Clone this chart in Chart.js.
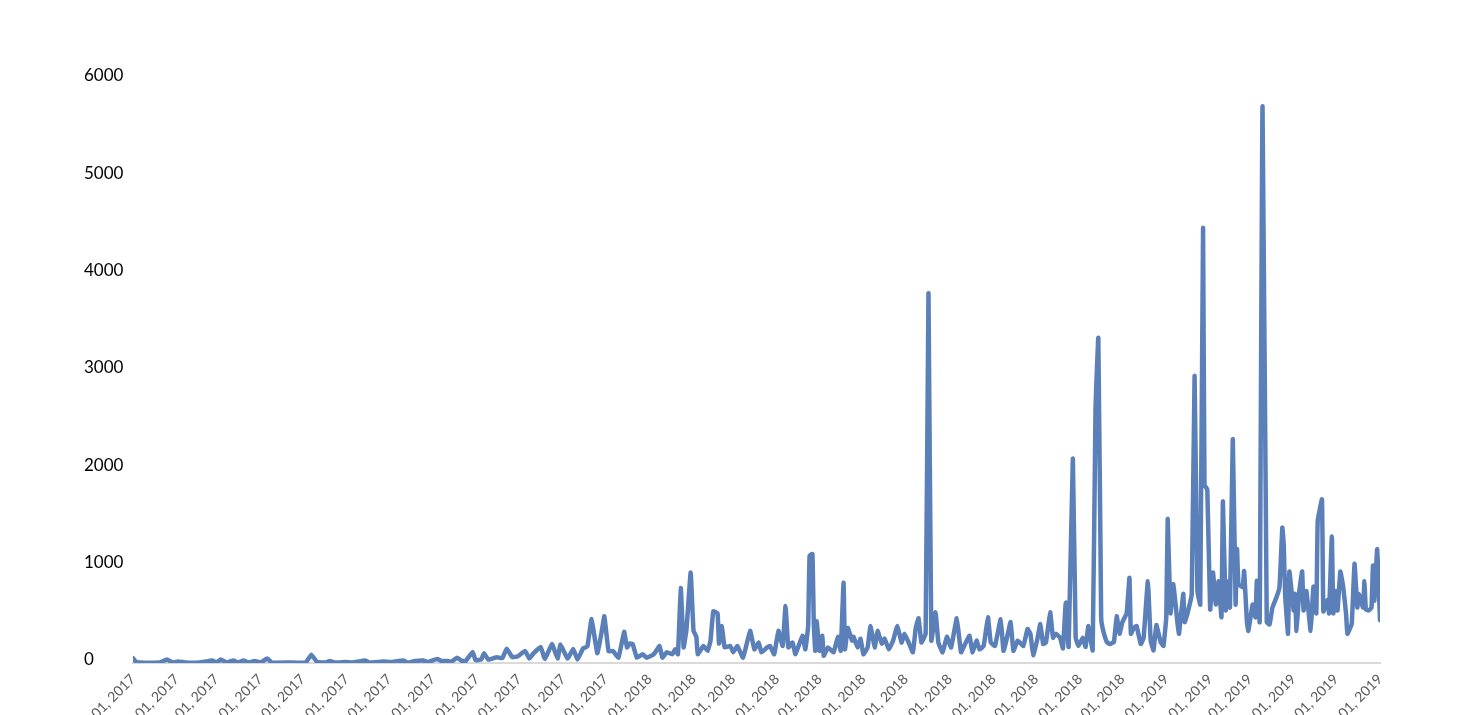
<!DOCTYPE html>
<html>
<head>
<meta charset="utf-8">
<script src="https://cdn.jsdelivr.net/npm/chart.js@4.4.0/dist/chart.umd.min.js"></script>
<style>
  html, body { margin: 0; padding: 0; background: #fff; overflow: hidden; }
  #wrap { width: 1468px; height: 715px; }
</style>
</head>
<body>
<div id="wrap"><canvas id="chart" width="1468" height="715"></canvas></div>
<script>
/* ── Axis labels ── */
const monthLabels = [
  'Jan 01, 2017', 'Feb 01, 2017', 'Mar 01, 2017', 'Apr 01, 2017', 'May 01, 2017', 'Jun 01, 2017',
  'Jul 01, 2017', 'Aug 01, 2017', 'Sep 01, 2017', 'Oct 01, 2017', 'Nov 01, 2017', 'Dec 01, 2017',
  'Jan 01, 2018', 'Feb 01, 2018', 'Mar 01, 2018', 'Apr 01, 2018', 'May 01, 2018', 'Jun 01, 2018',
  'Jul 01, 2018', 'Aug 01, 2018', 'Sep 01, 2018', 'Oct 01, 2018', 'Nov 01, 2018', 'Dec 01, 2018',
  'Jan 01, 2019', 'Feb 01, 2019', 'Mar 01, 2019', 'Apr 01, 2019', 'May 01, 2019', 'Jun 01, 2019'
];
const yTicks = [0, 1000, 2000, 3000, 4000, 5000, 6000];

/* ── Series: days since Jan 01, 2017 and the count on that day ── */
const dayOffset = [
  0, 2, 5, 12, 19, 24, 28, 32, 37, 47, 56, 59, 62, 66, 71, 74, 78, 82, 86, 90,
  95, 98, 111, 122, 126, 130, 136, 139, 143, 150, 155, 164, 167, 177, 182, 191, 194, 199, 205, 208,
  215, 218, 222, 225, 229, 232, 235, 240, 242, 246, 248, 251, 257, 261, 264, 268, 272, 277, 280, 283,
  288, 291, 296, 300, 302, 307, 311, 314, 318, 321, 324, 328, 331, 333, 336, 339, 343, 347, 349, 351,
  353, 356, 360, 363, 367, 369, 372, 374, 377, 381, 383, 385, 387, 389, 391, 394, 396, 398, 399, 403,
  406, 408, 410, 413, 414, 416, 418, 422, 424, 427, 431, 436, 439, 442, 444, 448, 450, 453, 456, 459,
  461, 463, 466, 468, 473, 475, 477, 478, 480, 481, 482, 483, 485, 487, 488, 491, 495, 498, 500, 502,
  503, 505, 508, 509, 512, 514, 516, 519, 521, 524, 526, 529, 531, 534, 537, 540, 543, 545, 548, 551,
  553, 555, 557, 560, 562, 564, 567, 569, 572, 575, 578, 582, 585, 588, 591, 593, 596, 598, 601, 604,
  606, 609, 613, 615, 617, 620, 622, 625, 629, 632, 634, 636, 639, 641, 643, 645, 648, 650, 652, 655,
  657, 659, 661, 664, 666, 668, 671, 673, 675, 678, 680, 682, 684, 685, 688, 690, 693, 695, 697, 699,
  702, 704, 705, 707, 709, 712, 714, 717, 719, 721, 723, 726, 728, 730, 731, 733, 735, 738, 739, 742,
  743, 745, 748, 750, 752, 754, 756, 757, 759, 761, 763, 765, 767, 769, 770, 772, 774, 775, 777, 779,
  780, 781, 784, 785, 787, 788, 791, 793, 794, 796, 798, 801, 803, 805, 808, 810, 812, 813, 814, 816,
  817, 820, 821, 822, 824, 826, 827, 829, 832, 834, 836, 837, 840, 841, 844, 845, 847, 848, 850, 851,
  853, 855, 857, 858, 861, 863, 865, 866, 869, 870, 871, 873, 875, 876, 877, 879, 881
];
const dailyCount = [
  50, 15, 5, 3, 5, 35, 5, 15, 5, 5, 25, 5, 35, 5, 25, 5, 25, 5, 20, 5,
  45, 5, 5, 5, 85, 10, 5, 20, 5, 10, 5, 25, 5, 15, 10, 25, 5, 20, 25, 10,
  40, 20, 20, 15, 55, 25, 20, 113, 30, 35, 100, 35, 60, 50, 147, 60, 70, 123, 45, 100,
  165, 40, 195, 45, 190, 45, 145, 35, 150, 170, 450, 100, 310, 480, 120, 125, 55, 320, 160, 200,
  195, 55, 90, 55, 80, 110, 175, 55, 110, 90, 140, 90, 770, 160, 340, 930, 330, 270, 90, 175,
  125, 230, 530, 510, 200, 380, 160, 175, 110, 175, 55, 330, 140, 210, 110, 160, 175, 90, 330, 175,
  585, 160, 210, 90, 280, 140, 380, 1100, 1120, 390, 125, 430, 125, 280, 75, 160, 110, 270, 125, 825,
  140, 360, 230, 270, 160, 250, 90, 160, 380, 160, 330, 200, 250, 140, 230, 380, 210, 300, 210, 110,
  360, 460, 210, 300, 3800, 230, 520, 210, 110, 270, 160, 460, 110, 200, 280, 110, 230, 140, 175, 470,
  210, 175, 450, 125, 230, 420, 125, 230, 175, 350, 300, 80, 250, 400, 195, 210, 520, 260, 300, 260,
  150, 620, 165, 2100, 260, 175, 260, 165, 380, 130, 2600, 3340, 465, 360, 215, 195, 215, 480, 300, 420,
  510, 875, 300, 360, 380, 195, 260, 840, 230, 130, 390, 215, 175, 470, 1480, 510, 810, 400, 300, 710,
  420, 510, 710, 2950, 740, 600, 4470, 1830, 1780, 550, 930, 600, 840, 470, 1660, 540, 840, 570, 2300, 600,
  1170, 810, 780, 945, 420, 330, 600, 470, 845, 420, 5720, 420, 395, 570, 680, 780, 1390, 1210, 700, 300,
  940, 540, 710, 330, 740, 940, 540, 740, 330, 785, 510, 1460, 1680, 530, 650, 510, 1300, 510, 740, 540,
  940, 780, 510, 300, 400, 1020, 570, 710, 570, 840, 550, 540, 570, 1000, 640, 1170, 440
];

/* ── Month ticks sit on the first day of each month ── */
const START = Date.UTC(2017, 0, 1);
const tickDays = monthLabels.map((_, m) => Math.round((Date.UTC(2017, m, 1) - START) / 864e5));

const ctx = document.getElementById('chart').getContext('2d');

new Chart(ctx, {
  type: 'line',
  data: {
    datasets: [{
      data: dayOffset.map((d, i) => ({ x: d, y: dailyCount[i] })),
      borderColor: '#5b80b9',
      borderWidth: 4.5,
      pointRadius: 0,
      fill: false,
      tension: 0.1,
      borderJoinStyle: 'round',
      borderCapStyle: 'round'
    }]
  },
  options: {
    responsive: false,
    animation: false,
    devicePixelRatio: 1,
    layout: { padding: { top: 79, left: 84, right: 88, bottom: 0 } },
    plugins: {
      legend: { display: false },
      tooltip: { enabled: false }
    },
    scales: {
      x: {
        type: 'linear',
        min: 0,
        max: tickDays[tickDays.length - 1],
        afterBuildTicks: s => { s.ticks = tickDays.map(v => ({ value: v })); },
        afterFit: s => { s.height = 52; },
        ticks: {
          autoSkip: false,
          minRotation: 45,
          maxRotation: 45,
          padding: 8,
          color: '#595959',
          font: { family: 'Lato', size: 14 },
          callback: (v, i) => monthLabels[i]
        },
        grid: { display: true, drawOnChartArea: false, drawTicks: false },
        border: { display: true, color: '#d9d9d9', width: 2 }
      },
      y: {
        min: 0,
        max: 6000,
        afterBuildTicks: s => { s.ticks = yTicks.map(v => ({ value: v })); },
        afterFit: s => { s.width = 49; },
        ticks: {
          crossAlign: 'far',
          padding: 11,
          labelOffset: -3,
          color: '#000000',
          font: { family: 'Lato', size: 17 },
          callback: v => String(v)
        },
        grid: { display: false },
        border: { display: false }
      }
    }
  }
});
</script>
</body>
</html>
